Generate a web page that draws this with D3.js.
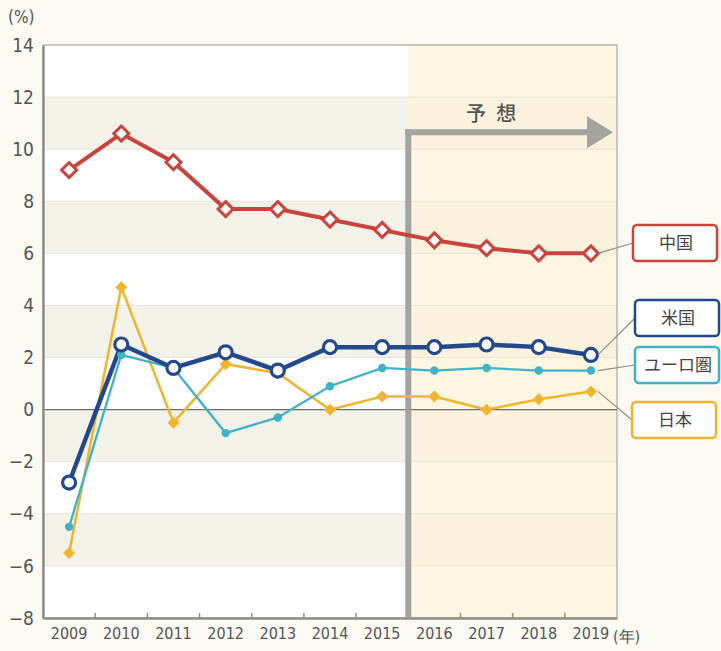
<!DOCTYPE html>
<html><head><meta charset="utf-8">
<script src="https://cdn.jsdelivr.net/npm/d3@7"></script>
<style>
html,body{margin:0;padding:0;background:#fafaf3;}
svg{display:block;}
</style></head>
<body>
<svg id="c" width="721" height="651"></svg>
<script>
const years = ["2009","2010","2011","2012","2013","2014","2015","2016","2017","2018","2019"];
const china = [9.2,10.6,9.5,7.7,7.7,7.3,6.9,6.5,6.2,6.0,6.0];
const usa   = [-2.8,2.5,1.6,2.2,1.5,2.4,2.4,2.4,2.5,2.4,2.1];
const euro  = [-4.5,2.1,1.6,-0.9,-0.3,0.9,1.6,1.5,1.6,1.5,1.5];
const japan = [-5.5,4.7,-0.5,1.75,1.4,0.0,0.5,0.5,0.0,0.4,0.7];
const yTicks = [-8,-6,-4,-2,0,2,4,6,8,10,12,14];
const seriesNames = ["中国","米国","ユーロ圏","日本"];
const forecastStart = "2016";
const forecastLabel = "予 想";

const svg = d3.select("#c");
const L=43, R=617, T=45, B=618;
const x = d3.scaleBand().domain(years).range([L,R]).padding(0);
const y = d3.scaleLinear().domain([-8,14]).range([B,T]);
const cx = d => x(d)+x.bandwidth()/2;
const font = "'DejaVu Sans Condensed','DejaVu Sans',sans-serif";

// plot background
svg.append("rect").attr("x",L).attr("y",T).attr("width",R-L).attr("height",B-T).attr("fill","#ffffff");
const bandBottoms = yTicks.filter(v => v < 14 && ((v % 4)+4)%4 === 2);
svg.selectAll(".band").data(bandBottoms).join("rect")
  .attr("x",L).attr("width",R-L)
  .attr("y",d=>y(d+2)).attr("height",d=>y(d)-y(d+2)).attr("fill","#f3f2e9");
// forecast area
const fx = x(forecastStart);
svg.append("rect").attr("x",fx).attr("y",T).attr("width",R-fx).attr("height",B-T).attr("fill","#fdf6e1");
svg.selectAll(".fband").data(bandBottoms).join("rect")
  .attr("x",fx).attr("width",R-fx)
  .attr("y",d=>y(d+2)).attr("height",d=>y(d)-y(d+2)).attr("fill","#faf2dd");
// gridlines
svg.selectAll(".grid").data(yTicks.filter(v=>v!==0 && v!==-8 && v!==14)).join("line")
  .attr("x1",L).attr("x2",R).attr("y1",d=>y(d)).attr("y2",d=>y(d))
  .attr("stroke","#e6e4da").attr("stroke-width",1);
// frame
svg.append("rect").attr("x",L).attr("y",T).attr("width",R-L).attr("height",B-T)
  .attr("fill","none").attr("stroke","#9a9a94").attr("stroke-width",1);
// zero line
svg.append("line").attr("x1",L).attr("x2",R).attr("y1",y(0)).attr("y2",y(0)).attr("stroke","#6e6e68").attr("stroke-width",1.2);

// axes
const yAxis = svg.append("g").attr("transform",`translate(${L},0)`)
  .call(d3.axisLeft(y).tickValues(yTicks).tickSize(0).tickPadding(9).tickFormat(d=>d<0?"−"+Math.abs(d):d));
yAxis.select(".domain").attr("stroke","#8f8f8a").attr("stroke-width",2.5);
yAxis.selectAll("text").attr("font-family",font).attr("font-size",19).attr("fill","#555");

const xAxis = svg.append("g").attr("transform",`translate(0,${B})`)
  .call(d3.axisBottom(x).tickSize(0).tickPadding(10));
xAxis.select(".domain").attr("stroke","#8f8f8a").attr("stroke-width",2.5);
xAxis.selectAll("text").attr("font-family",font).attr("font-size",16).attr("fill","#555");
// boundary tick marks (inside)
svg.selectAll(".bt").data(years.slice(1)).join("line")
  .attr("x1",d=>x(d)).attr("x2",d=>x(d)).attr("y1",B).attr("y2",B-5)
  .attr("stroke","#8f8f8a").attr("stroke-width",1.5);

svg.append("text").attr("x",8).attr("y",23).attr("font-family",font).attr("font-size",17).attr("fill","#555").text("(%)");
svg.append("text").attr("x",R-4).attr("y",B+24).attr("font-family",font).attr("font-size",16).attr("fill","#555").text("(年)");

// forecast arrow
const arrowY = y(10.65);
svg.append("line").attr("x1",fx).attr("x2",fx).attr("y1",arrowY-3).attr("y2",B)
  .attr("stroke","#a3a3a0").attr("stroke-width",6);
svg.append("line").attr("x1",fx-3).attr("x2",R-28).attr("y1",arrowY).attr("y2",arrowY)
  .attr("stroke","#a3a3a0").attr("stroke-width",6);
svg.append("path").attr("d",`M${R-30},${arrowY-16} L${R-4},${arrowY} L${R-30},${arrowY+16} Z`).attr("fill","#a3a3a0");
svg.append("text").attr("x",(fx+R)/2-20).attr("y",arrowY-11).attr("text-anchor","middle")
  .attr("font-family","'Noto Sans CJK JP',sans-serif").attr("font-size",20).attr("font-weight",500)
  .attr("letter-spacing",3).attr("fill","#555").text(forecastLabel);

// lines
const line = vals => d3.line().x((d,i)=>cx(years[i])).y(d=>y(d))(vals);
const diamond = s => `M0,${-s} L${s},0 L0,${s} L${-s},0 Z`;

const colJ="#efb52e", colE="#3fb2c8", colU="#23498c", colC="#c9443c";

svg.append("path").attr("d",line(japan)).attr("fill","none").attr("stroke",colJ).attr("stroke-width",2.5);
svg.append("path").attr("d",line(euro)).attr("fill","none").attr("stroke",colE).attr("stroke-width",2.3);
svg.append("path").attr("d",line(usa)).attr("fill","none").attr("stroke",colU).attr("stroke-width",4.5);
svg.append("path").attr("d",line(china)).attr("fill","none").attr("stroke",colC).attr("stroke-width",4);

svg.selectAll(".mj").data(japan).join("path")
  .attr("transform",(d,i)=>`translate(${cx(years[i])},${y(d)})`).attr("d",diamond(6)).attr("fill",colJ);
svg.selectAll(".me").data(euro).join("circle")
  .attr("cx",(d,i)=>cx(years[i])).attr("cy",d=>y(d)).attr("r",4.2).attr("fill",colE);
svg.selectAll(".mu").data(usa).join("circle")
  .attr("cx",(d,i)=>cx(years[i])).attr("cy",d=>y(d)).attr("r",6.5).attr("fill","#fff").attr("stroke",colU).attr("stroke-width",3.2);
svg.selectAll(".mc").data(china).join("path")
  .attr("transform",(d,i)=>`translate(${cx(years[i])},${y(d)})`).attr("d",diamond(7.5)).attr("fill","#fff").attr("stroke",colC).attr("stroke-width",3);

// legend boxes
const last = years[years.length-1];
const legend = [
  {name:seriesNames[0], col:colC, v:china[10], by:225, bx:633},
  {name:seriesNames[1], col:colU, v:usa[10],   by:300, bx:635},
  {name:seriesNames[2], col:colE, v:euro[10],  by:347, bx:635},
  {name:seriesNames[3], col:colJ, v:japan[10], by:402, bx:632},
];
legend.forEach(l=>{
  const px = cx(last)+7, py = y(l.v);
  svg.append("line").attr("x1",px).attr("y1",py).attr("x2",l.bx).attr("y2",l.by+18)
    .attr("stroke","#8e8e88").attr("stroke-width",1.2);
  svg.append("rect").attr("x",l.bx).attr("y",l.by).attr("width",84).attr("height",36).attr("rx",4)
    .attr("fill","#fff").attr("stroke",l.col).attr("stroke-width",2.5);
  svg.append("text").attr("x",l.bx+43).attr("y",l.by+24).attr("text-anchor","middle")
    .attr("font-family","'Noto Sans CJK JP',sans-serif").attr("font-size",17).attr("fill","#444").text(l.name);
});
</script>
</body></html>
